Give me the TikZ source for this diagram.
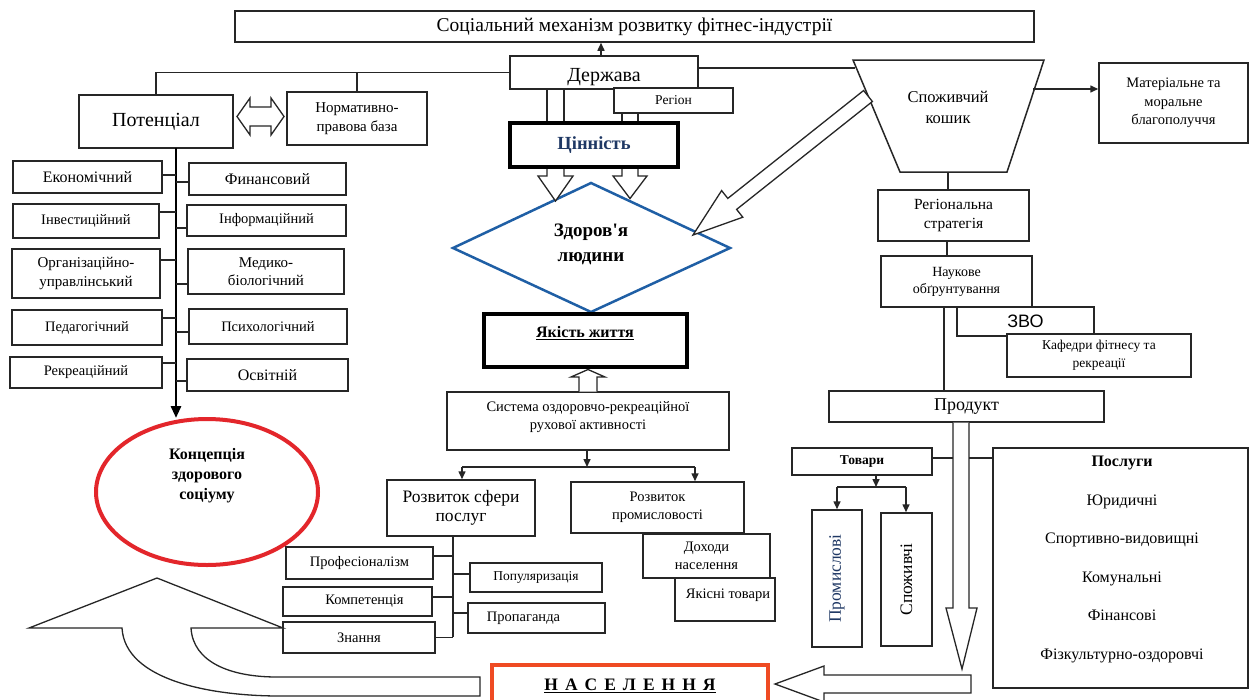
\documentclass[tikz,border=0pt]{standalone}
\usepackage{fontspec}
\setmainfont{Liberation Serif}
\newfontfamily\sansf{Liberation Sans}
\newfontfamily\apf{Liberation Serif}[Ligatures=TeXOff]
\usetikzlibrary{arrows.meta,shapes.geometric}
\definecolor{dblue}{HTML}{1F5FA5}
\definecolor{navyc}{HTML}{1F3864}
\definecolor{ered}{HTML}{E3262B}
\definecolor{ored}{HTML}{EF4B23}
\definecolor{lc}{HTML}{262626}
\newcommand\fsz[2]{\fontsize{#1}{#2}\selectfont}
\begin{document}
\begin{tikzpicture}[x=1pt,y=-1pt,
  box/.style={draw=lc, line width=1.5pt, fill=white, inner sep=0pt, align=center},
  conn/.style={draw=lc, line width=1.5pt},
  arr/.style={conn, -{Triangle[length=8pt,width=7pt]}},
  hollow/.style={draw=lc, line width=1.3pt, fill=white, line join=miter},
  lbl/.style={inner sep=0pt, align=center}]
\useasboundingbox (0,0) rectangle (1249,699);
\fill[white] (0,0) rectangle (1249,699);

% ---------- top ----------
\node[box, minimum width=799pt, minimum height=31pt, font=\fsz{19.5}{22}] (title) at (634.5,26.5) {Соціальний механізм розвитку фітнес-індустрії};
\node[box, minimum width=188pt, minimum height=33pt] (derzh) at (604,72.5) {};
\node[lbl, font=\fsz{20}{24}] (derzhT) at (604,77) {Держава};
\draw[arr] ([xshift=-3pt]derzh.north) -- ([xshift=-3pt]derzh.north |- title.south);
\node[box, minimum width=119pt, minimum height=25pt, font=\fsz{13.5}{16}] (regn) at (673.5,100.5) {Регіон};

% ---------- potential ----------
\node[box, minimum width=154pt, minimum height=53pt, font=\fsz{20}{24}] (pot) at (156,121.5) {Потенціал};
\node[box, minimum width=140pt, minimum height=53pt, font=\fsz{15}{19}] (norm) at (357,118.5) {Нормативно-\\правова база};
\draw[conn] (derzh.west) -| (pot.north);
\draw[conn] (norm.north) -- (norm.north |- derzh.west);
\draw[hollow] (237,116.5) -- (250,98) -- (250,107) -- (271,107) -- (271,98) -- (284,116.5) -- (271,135) -- (271,126) -- (250,126) -- (250,135) -- cycle;

% funnel
\coordinate (fTL) at (853,60);
\coordinate (fTR) at (1044,60);
\coordinate (fBR) at (1007,172);
\coordinate (fBL) at (900,172);
\draw[draw=lc, line width=1.5pt, fill=white] (fTL) -- (fTR) -- (fBR) -- (fBL) -- cycle;
\node[lbl, font=\fsz{16.5}{21}] (funnel) at (948,107) {Споживчий\\кошик};
\coordinate (fl) at (855,68);
\draw[conn] (derzh.east |- fl) -- (fl);
\node[box, minimum width=149pt, minimum height=80pt, font=\fsz{14.5}{18.5}] (mat) at (1173.5,103) {Матеріальне та\\моральне\\благополуччя};
\coordinate (fr) at (1033,89);
\draw[arr] (fr) -- (fr -| mat.west);

% trunk + left/right boxes
\node[draw=ered, line width=4pt, ellipse, minimum width=222pt, minimum height=146pt, inner sep=0pt] (conc) at (207,492) {};
\node[lbl, font=\bfseries\fsz{16}{20}] (concT) at (207,476) {Концепція\\здорового\\соціуму};
\coordinate (tr) at (176,148);
\draw[draw=black, line width=2.8pt, -{Triangle[length=12pt,width=10pt]}] (tr) -- ([yshift=-1pt]tr |- conc.north);

\node[box, minimum width=149pt, minimum height=32pt, font=\fsz{16}{19}] (ek) at (87.5,177) {Економічний};
\node[box, minimum width=157pt, minimum height=32pt, font=\fsz{16}{19}] (fin) at (267.5,179) {Финансовий};
\node[box, minimum width=146pt, minimum height=34pt, font=\fsz{14.5}{18}] (inv) at (86,221) {Інвестиційний};
\node[box, minimum width=159pt, minimum height=31pt, font=\fsz{14.5}{18}] (inf) at (266.5,220.5) {Інформаційний};
\node[box, minimum width=148pt, minimum height=49pt, font=\fsz{15}{18.5}] (org) at (86,273.5) {Організаційно-\\управлінський};
\node[box, minimum width=156pt, minimum height=45pt, font=\fsz{15}{18.5}] (med) at (266,271.5) {Медико-\\біологічний};
\node[box, minimum width=150pt, minimum height=35pt, font=\fsz{14.5}{18}] (ped) at (87,327.5) {Педагогічний};
\node[box, minimum width=158pt, minimum height=35pt, font=\fsz{14.5}{18}] (psy) at (268,326.5) {Психологічний};
\node[box, minimum width=152pt, minimum height=31pt, font=\fsz{14.5}{18}] (rek) at (86,372.5) {Рекреаційний};
\node[box, minimum width=161pt, minimum height=32pt, font=\fsz{16}{19}] (osv) at (267.5,375) {Освітній};
\draw[conn] ([yshift=2pt]ek.east) -- ([yshift=2pt]ek.east -| tr);
\draw[conn] ([yshift=-3pt]fin.west) -- ([yshift=-3pt]fin.west -| tr);
\draw[conn] ([yshift=9pt]inv.east) -- ([yshift=9pt]inv.east -| tr);
\draw[conn] ([yshift=-7.5pt]inf.west) -- ([yshift=-7.5pt]inf.west -| tr);
\draw[conn] ([yshift=13.5pt]org.east) -- ([yshift=13.5pt]org.east -| tr);
\draw[conn] ([yshift=-12.5pt]med.west) -- ([yshift=-12.5pt]med.west -| tr);
\draw[conn] ([yshift=9.5pt]ped.east) -- ([yshift=9.5pt]ped.east -| tr);
\draw[conn] ([yshift=-5.5pt]psy.west) -- ([yshift=-5.5pt]psy.west -| tr);
\draw[conn] ([yshift=9.5pt]rek.east) -- ([yshift=9.5pt]rek.east -| tr);
\draw[conn] ([yshift=-6pt]osv.west) -- ([yshift=-6pt]osv.west -| tr);

% ---------- centre column ----------
\node[box, draw=black, line width=4pt, minimum width=168pt, minimum height=44pt, font=\bfseries\fsz{18.5}{22}, text=navyc] (cin) at (594,145) {Цінність};
\coordinate (pa) at (547,0); \coordinate (pb) at (564,0);
\coordinate (pc) at (622,0); \coordinate (pd) at (638,0);
\draw[conn, line width=1.3pt] (derzh.south -| pa) -- (cin.north -| pa);
\draw[conn, line width=1.3pt] (derzh.south -| pb) -- (cin.north -| pb);
\draw[conn, line width=1.3pt] (regn.south -| pc) -- (cin.north -| pc);
\draw[conn, line width=1.3pt] (regn.south -| pd) -- (cin.north -| pd);

% diamond
\coordinate (dT) at (591,183); \coordinate (dR) at (730,248);
\coordinate (dB) at (591,312); \coordinate (dL) at (453,248);
\draw[draw=dblue, line width=2.5pt, fill=white, line join=miter] (dT) -- (dR) -- (dB) -- (dL) -- cycle;
\node[lbl, font=\bfseries\fsz{19}{25}] (health) at (591,244) {Здоров{\apf'}я\\людини};
\draw[hollow] (547,169) -- (547,176) -- (538,176) -- (555.5,201) -- (573,176) -- (564,176) -- (564,169);
\draw[hollow] (622,169) -- (622,176) -- (613,176) -- (630,198.5) -- (647,176) -- (638,176) -- (638,169);
\draw[hollow] (863.6,90.5) -- (727.8,198.4) -- (721.6,190.6) -- (693,235) -- (742.8,217.2) -- (736.6,209.4) -- (872.4,101.5) -- cycle;

\node[box, draw=black, line width=4pt, minimum width=203pt, minimum height=53pt] (qual) at (585.5,340.5) {};
\node[lbl, font=\bfseries\fsz{16}{19}] (qualT) at (585,333) {\underline{Якість життя}};
\node[box, minimum width=282pt, minimum height=58pt] (sys) at (588,421) {};
\node[lbl, font=\fsz{14.5}{18}] (sysT) at (588,417) {Система оздоровчо-рекреаційної\\рухової активності};
\draw[hollow] (579,391.5) -- (579,377) -- (571,377) -- (588,369.5) -- (605,377) -- (597,377) -- (597,391.5);

\node[box, minimum width=148pt, minimum height=56pt, font=\fsz{17.5}{19.5}] (rsp) at (461,508) {Розвиток сфери\\послуг};
\node[box, minimum width=173pt, minimum height=51pt, font=\fsz{14.5}{18.5}] (rpr) at (657.5,507.5) {Розвиток\\промисловості};
\coordinate (bL) at (462,467); \coordinate (bR) at (695,467); \coordinate (bM) at (587,467);
\draw[arr] (sys.south -| bM) -- (bM);
\draw[conn] (bL) -- (bR);
\draw[arr] (bL) -- (bL |- rsp.north);
\draw[arr] (bR) -- (bR |- rpr.north);
\node[box, minimum width=127pt, minimum height=44pt, font=\fsz{14.5}{17.5}] (doh) at (706.5,556) {Доходи\\населення};
\node[box, minimum width=100pt, minimum height=43pt] (yak) at (725,599.5) {};
\node[lbl, font=\fsz{14.5}{17}] (yakT) at (728,595) {Якісні товари};

% services sub-boxes
\coordinate (st) at (453,536);
\coordinate (sb) at (453,637);
\draw[conn] (st) -- (sb);
\node[box, minimum width=147pt, minimum height=32pt, font=\fsz{14.5}{17}] (prof) at (359.5,563) {Професіоналізм};
\node[box, minimum width=132pt, minimum height=29pt, font=\fsz{13.5}{16}] (pop) at (536,577.5) {Популяризація};
\node[box, minimum width=149pt, minimum height=29pt, font=\fsz{14.5}{17}] (komp) at (357.5,601.5) {\hspace*{14pt}Компетенція};
\node[box, minimum width=137pt, minimum height=30pt, font=\fsz{14.5}{17}] (prop) at (536.5,618) {Пропаганда\hspace*{26pt}};
\node[box, minimum width=152pt, minimum height=31pt, font=\fsz{14.5}{17}] (zn) at (359,637.5) {Знання};
\draw[conn] ([yshift=7pt]prof.east) -- ([yshift=7pt]prof.east -| st);
\draw[conn] ([yshift=3.5pt]pop.west) -- ([yshift=3.5pt]pop.west -| st);
\draw[conn] ([yshift=4.5pt]komp.east) -- ([yshift=4.5pt]komp.east -| st);
\draw[conn] ([yshift=5pt]prop.west) -- ([yshift=5pt]prop.west -| st);
\draw[conn] (zn.east) -- (zn.east -| st);

% bottom curved arrow
\draw[hollow] (480,677) -- (277,677) .. controls (230,677) and (193,662) .. (191,628) -- (283,628) -- (157,578) -- (29,628) -- (122,628) .. controls (125,680) and (210,696) .. (280,696) -- (480,696) -- cycle;

% population
\node[draw=ored, line width=4pt, minimum width=276pt, minimum height=60pt, inner sep=0pt] (nas) at (630,695) {};
\node[lbl, font=\bfseries\fsz{17.5}{20}] (nasT) at (630,686) {\underline{Н\hspace{7pt}А\hspace{7pt}С\hspace{7pt}Е\hspace{7pt}Л\hspace{7pt}Е\hspace{7pt}Н\hspace{7pt}Н\hspace{7pt}Я}};
\draw[hollow] (971,675) -- (824,675) -- (824,666) -- (775,684) -- (824,702) -- (824,693) -- (971,693) -- cycle;

% ---------- right column ----------
\node[box, minimum width=151pt, minimum height=51pt, font=\fsz{15.5}{19}] (rstr) at (953.5,215.5) {Регіональна\\стратегія};
\coordinate (f1) at (948,0); \coordinate (f2) at (947,0); \coordinate (f3) at (944,0);
\draw[conn] (fBL -| f1) -- (rstr.north -| f1);
\node[box, minimum width=151pt, minimum height=51pt, font=\fsz{14}{17}] (nauk) at (956.5,281.5) {Наукове\\обґрунтування};
\draw[conn] (rstr.south -| f2) -- (nauk.north -| f2);
\node[box, minimum width=137pt, minimum height=29pt, font=\sansf\fsz{18}{20}] (zvo) at (1025.5,321.5) {ЗВО};
\node[box, minimum width=184pt, minimum height=43pt, font=\fsz{13.5}{18}] (kaf) at (1099,355.5) {Кафедри фітнесу та\\рекреації};
\node[box, minimum width=275pt, minimum height=31pt, font=\fsz{18}{20}] (prod) at (966.5,406.5) {Продукт};
\draw[conn] (nauk.south -| f3) -- (prod.north -| f3);

\draw[hollow] (953,422.5) -- (953,608) -- (946,608) -- (962,669) -- (977,608) -- (969,608) -- (969,422.5);

\node[box, minimum width=140pt, minimum height=27pt, font=\bfseries\fsz{13.5}{16}] (tov) at (862,461.5) {Товари};
\node[box, minimum width=255pt, minimum height=240pt] (posl) at (1120.5,568) {};
\node[lbl, font=\fsz{16}{38.5}] (poslT) at (1122,559.5) {\textbf{Послуги}\\Юридичні\\Спортивно-видовищні\\Комунальні\\Фінансові\\Фізкультурно-оздоровчі};
\coordinate (sa) at (953,458); \coordinate (sbb) at (969,458);
\draw[conn] (tov.east |- sa) -- (sa);
\draw[conn] (sbb) -- (sbb -| posl.west);

\node[box, minimum width=50pt, minimum height=137pt] (prom) at (837,578.5) {};
\node[lbl, rotate=90, text=navyc, font=\fsz{17.5}{20}] (promT) at (prom.center) {Промислові};
\node[box, minimum width=51pt, minimum height=133pt] (spoz) at (906.5,579.5) {};
\node[lbl, rotate=90, font=\fsz{17.5}{20}] (spozT) at (spoz.center) {Споживчі};
\coordinate (tj) at (876,487); \coordinate (tl) at (837,487); \coordinate (tr2) at (906,487);
\draw[arr] (tov.south -| tj) -- (tj);
\draw[conn] (tl) -- (tr2);
\draw[arr] (tl) -- (tl |- prom.north);
\draw[arr] (tr2) -- (tr2 |- spoz.north);
\end{tikzpicture}
\end{document}
